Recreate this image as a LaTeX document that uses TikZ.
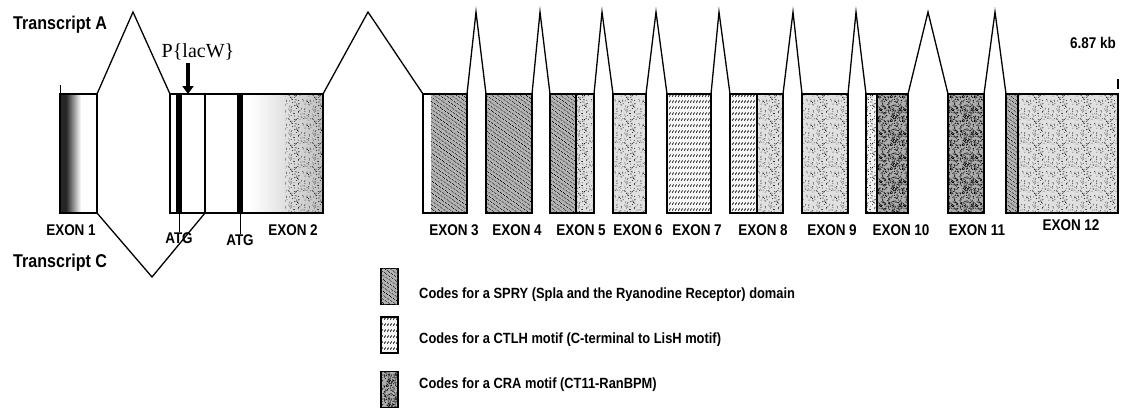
\documentclass[tikz,border=0pt]{standalone}
\usepackage{fontspec}
\setmainfont{Liberation Serif}
\newfontfamily\narrowbf[FakeStretch=0.87]{Liberation Sans Bold}
\usetikzlibrary{patterns,patterns.meta,arrows.meta,positioning}

% fill textures of the exon boxes
\tikzdeclarepattern{
  name=sprywave, type=uncolored,
  bounding box={(0pt,0pt) and (4pt,3pt)},
  tile size={(4pt,3pt)},
  tile transformation={rotate=-35},
  code={\draw[line width=0.7pt] (0pt,1.5pt) .. controls (1pt,3pt) and (2pt,0pt) .. (4pt,1.5pt);}
}
\tikzdeclarepattern{
  name=ctlhslash, type=uncolored,
  bounding box={(0pt,0pt) and (3pt,6pt)},
  tile size={(3pt,6pt)},
  code={\draw[line width=0.9pt] (0.3pt,1.6pt) -- (2.1pt,4pt);}
}
\tikzdeclarepattern{
  name=dotsparse, type=uncolored,
  bounding box={(0pt,0pt) and (24pt,24pt)},
  tile size={(24pt,24pt)},
  code={\pgfmathsetseed{7}
    \foreach \k in {1,...,85}{\fill ({rnd*24pt},{rnd*24pt}) circle (0.45pt);}}
}
\tikzdeclarepattern{
  name=dotdense, type=uncolored,
  bounding box={(0pt,0pt) and (24pt,24pt)},
  tile size={(24pt,24pt)},
  code={\pgfmathsetseed{11}
    \foreach \k in {1,...,220}{\fill ({rnd*24pt},{rnd*24pt}) circle (0.55pt);}}
}

\tikzset{
  exon/.style={inner sep=0pt, outer sep=0pt, minimum height=119pt, anchor=north west},
  exonline/.style={line width=1.6pt},
  divline/.style={line width=1.3pt},
  intron/.style={line width=1.3pt, line join=miter},
  spryfill/.style={fill=black!30, postaction={pattern=sprywave, pattern color=black}},
  ctlhfill/.style={fill=black!4, postaction={pattern=ctlhslash, pattern color=black}},
  dotfill/.style={fill=black!12, postaction={pattern=dotsparse, pattern color=black}},
  crafill/.style={fill=black!32, postaction={pattern=dotdense, pattern color=black}},
  exonlbl/.style={font=\narrowbf\fontsize{15.5}{17}\selectfont, inner sep=0pt},
  translbl/.style={font=\narrowbf\fontsize{18.5}{20}\selectfont, inner sep=0pt, anchor=west},
  legtext/.style={font=\narrowbf\fontsize{14.8}{17}\selectfont, inner sep=0pt, anchor=west},
  swatch/.style={draw, line width=1.2pt, inner sep=0pt, minimum width=17pt, minimum height=36pt},
  insarrow/.style={line width=4pt, -{Triangle[length=8pt,width=11pt]}}
}

\begin{document}
\begin{tikzpicture}[x=1pt,y=-1pt]
  \useasboundingbox[fill=white] (0,0) rectangle (1126,410);

  % exon boxes
  \foreach \nm/\xa/\xb in {e1/60/97, e2/170/323, e3/423/467, e4/486/532,
      e5/550/594, e6/613/646, e7/667/711, e8/730/783, e9/802/848,
      e10/866/908, e11/948/984, e12/1006/1118}
    \path node[exon, minimum width={(\xb-\xa)*1pt}] (\nm) at (\xa,94) {};

  % textures
  \fill[black!85] (e1.north west) rectangle ++(6,119);
  \shade[left color=black!85, right color=white] (66,94) rectangle (81,213);
  \shade[left color=white, right color=black!25] (250,94) rectangle (e2.south east);
  \path[pattern=dotsparse, pattern color=black] (285,94) rectangle (e2.south east);
  \path[spryfill] (e3.north west) ++(8,0) rectangle (e3.south east);
  \path[spryfill] (e4.north west) rectangle (e4.south east);
  \path[spryfill] (e5.north west) rectangle ++(26,119);
  \path[dotfill] (e5.north west) ++(26,0) rectangle (e5.south east);
  \path[dotfill] (e6.north west) rectangle (e6.south east);
  \path[ctlhfill] (e7.north west) rectangle (e7.south east);
  \path[ctlhfill] (e8.north west) rectangle ++(27,119);
  \path[dotfill] (e8.north west) ++(27,0) rectangle (e8.south east);
  \path[dotfill] (e9.north west) rectangle (e9.south east);
  \path[fill=black!5, postaction={pattern=dotsparse, pattern color=black}]
    (e10.north west) rectangle ++(11,119);
  \path[crafill] (e10.north west) ++(11,0) rectangle (e10.south east);
  \path[crafill] (e11.north west) rectangle (e11.south east);
  \path[spryfill] (e12.north west) rectangle ++(12,119);
  \path[dotfill] (e12.north west) ++(12,0) rectangle (e12.south east);

  % start codons and splice sites in exon 2
  \fill (176,94) rectangle (182,213);
  \fill (237,94) rectangle (243,213);
  \draw[divline] (e2.north west) ++(35,0) -- ++(0,119);
  \draw[divline] (e5.north west) ++(26,0) -- ++(0,119);
  \draw[divline] (e8.north west) ++(27,0) -- ++(0,119);
  \draw[divline] (e10.north west) ++(11,0) -- ++(0,119);
  \draw[divline] (e12.north west) ++(12,0) -- ++(0,119);

  % outlines
  \foreach \nm in {e1,e2,e3,e4,e5,e6,e7,e8,e9,e10,e11,e12}
    \draw[exonline] (\nm.north west) rectangle (\nm.south east);
  \draw[line width=1pt] (e1.north west) -- ++(0,-9);
  \draw[line width=1.2pt] (e12.north east) ++(0,-5) -- ++(0,-10);

  % introns, transcript A
  \foreach \a/\b/\px in {e1/e2/133, e2/e3/368, e3/e4/476, e4/e5/540,
      e5/e6/602, e6/e7/656, e7/e8/719, e8/e9/793, e9/e10/856,
      e10/e11/928, e11/e12/995}
    \draw[intron] (\a.north east) -- (\px,12) -- (\b.north west);

  % intron, transcript C
  \coordinate (spC) at (205,213);
  \draw[intron] (e1.south east) -- (152,277) -- (spC);

  % labels
  \node[translbl] (trA) at (13,25) {Transcript A};
  \node[translbl] (trC) at (13,263) {Transcript C};
  \node[exonlbl] (kb) at (1093,43) {6.87 kb};
  \foreach \nm/\xc/\yc in {1/71/230, 2/293/230, 3/454/230, 4/517/230,
      5/581/230, 6/638/230, 7/697/230, 8/763/230, 9/832/230,
      10/901/230, 11/977/230, 12/1071/225}
    \node[exonlbl] (lbl\nm) at (\xc,\yc) {EXON \nm};

  \node[exonlbl] (atg1) at (179,238) {ATG};
  \node[exonlbl] (atg2) at (240,240) {ATG};
  \draw[line width=1pt] (179,213) -- (atg1.north);
  \draw[line width=1pt] (240,213) -- (atg2.north);

  % P-element insertion
  \node[font=\fontsize{20}{22}\selectfont, inner sep=0pt] (lacw) at (198,52) {P\{lacW\}};
  \coordinate (ins) at (188,94);
  \draw[insarrow] (ins |- lacw.south) ++(0,3) -- (ins);

  % legend
  \node[swatch, spryfill] (sw1) at (389.5,286.5) {};
  \node[swatch, ctlhfill] (sw2) at (389.5,335) {};
  \node[swatch, crafill] (sw3) at (389.5,389.5) {};
  \node[legtext] (leg1) at (419,295) {Codes for a SPRY (Spla and the Ryanodine Receptor) domain};
  \node[legtext] (leg2) at (419,340) {Codes for a CTLH motif (C-terminal to LisH motif)};
  \node[legtext] (leg3) at (419,385) {Codes for a CRA motif (CT11-RanBPM)};
\end{tikzpicture}
\end{document}
